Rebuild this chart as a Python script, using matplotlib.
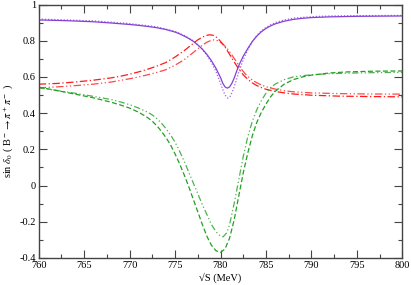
import numpy as np
import matplotlib
matplotlib.use('Agg')
import matplotlib.pyplot as plt
from matplotlib.ticker import MultipleLocator

plt.rcParams['font.family'] = ['Liberation Serif', 'DejaVu Serif']
plt.rcParams['mathtext.fontset'] = 'stix'

# purple, solid
x_ps = [760, 763, 766, 768, 770, 771, 772, 773, 774, 775, 775.5, 776, 776.5, 777,
        777.5, 778, 778.5, 779, 779.5, 780, 780.25, 780.5, 780.75, 781, 781.25,
        781.5, 781.75, 782, 782.5, 783, 783.5, 784, 784.5, 785, 785.5, 786, 787,
        788, 789, 790, 792, 795, 800]
y_ps = [0.915, 0.911, 0.905, 0.898, 0.89, 0.885, 0.879, 0.872, 0.862, 0.848, 0.838,
        0.826, 0.813, 0.797, 0.777, 0.754, 0.725, 0.69, 0.648, 0.597, 0.565, 0.545,
        0.538, 0.545, 0.565, 0.593, 0.628, 0.662, 0.715, 0.757, 0.796, 0.826, 0.85,
        0.868, 0.882, 0.893, 0.908, 0.918, 0.924, 0.928, 0.932, 0.935, 0.937]
# purple, dotted
x_pd = [760, 766, 770, 773, 775, 776, 777, 777.5, 778, 778.5, 779, 779.5, 780,
        780.25, 780.5, 780.8, 781.1, 781.4, 781.7, 782, 782.5, 783, 783.5, 784,
        784.5, 785, 785.5, 786, 787, 788, 790, 792, 795, 800]
y_pd = [0.92, 0.91, 0.895, 0.877, 0.852, 0.83, 0.80, 0.778, 0.752, 0.72, 0.68, 0.63,
        0.565, 0.53, 0.50, 0.483, 0.495, 0.53, 0.575, 0.625, 0.695, 0.75, 0.795, 0.83,
        0.855, 0.873, 0.888, 0.90, 0.915, 0.925, 0.933, 0.937, 0.939, 0.94]
# red, dash-dot
x_rd = [760, 762, 764, 766, 768, 769, 770, 771, 772, 773, 774, 775, 776, 776.5,
        777, 777.5, 778, 778.5, 778.8, 779.2, 779.6, 780, 780.5, 781, 781.5, 782,
        782.5, 783, 783.5, 784, 784.5, 785, 786, 787, 788, 790, 793, 796, 800]
y_rd = [0.56, 0.564, 0.572, 0.582, 0.595, 0.604, 0.615, 0.628, 0.643, 0.66, 0.68,
        0.71, 0.745, 0.765, 0.785, 0.805, 0.82, 0.83, 0.833, 0.83, 0.818, 0.797,
        0.765, 0.725, 0.683, 0.645, 0.612, 0.587, 0.567, 0.552, 0.541, 0.532, 0.52,
        0.512, 0.506, 0.499, 0.494, 0.492, 0.49]
# red, dash-dot-dot
x_rdd = [760, 762, 764, 766, 768, 770, 771, 772, 773, 774, 775, 776, 777, 777.5,
         778, 778.5, 779, 779.3, 779.7, 780.2, 780.7, 781.2, 781.7, 782.2, 782.7,
         783.2, 783.7, 784.3, 785, 786, 787, 788, 790, 793, 796, 800]
y_rdd = [0.54, 0.545, 0.552, 0.56, 0.572, 0.59, 0.60, 0.612, 0.625, 0.64, 0.665,
         0.695, 0.735, 0.755, 0.775, 0.792, 0.803, 0.805, 0.80, 0.785, 0.76, 0.725,
         0.688, 0.65, 0.618, 0.594, 0.576, 0.56, 0.546, 0.533, 0.524, 0.518, 0.512,
         0.508, 0.506, 0.505]
# green, dashed
x_gd = [760, 762, 764, 766, 768, 769, 770, 771, 772, 772.5, 773, 773.5, 774, 774.5,
        775, 775.5, 776, 776.5, 777, 777.5, 778, 778.5, 779, 779.5, 780, 780.5, 781,
        781.5, 782, 782.5, 783, 783.5, 784, 784.5, 785, 785.5, 786, 787, 788, 789,
        790, 792, 794, 797, 800]
y_gd = [0.544, 0.525, 0.505, 0.485, 0.46, 0.445, 0.428, 0.405, 0.375, 0.355, 0.33,
        0.30, 0.265, 0.225, 0.175, 0.12, 0.06, -0.005, -0.075, -0.145, -0.215, -0.28,
        -0.33, -0.36, -0.37, -0.35, -0.29, -0.19, -0.06, 0.07, 0.18, 0.275, 0.35,
        0.405, 0.45, 0.49, 0.52, 0.56, 0.585, 0.60, 0.61, 0.622, 0.628, 0.632, 0.633]
# green, dash-dot-dot
x_gdd = [760, 762, 764, 766, 768, 769, 770, 771, 772, 772.5, 773, 773.5, 774, 774.5,
         775, 775.5, 776, 776.5, 777, 777.5, 778, 778.5, 779, 779.5, 780, 780.3,
         780.7, 781, 781.5, 782, 782.5, 783, 783.5, 784, 784.5, 785, 785.5, 786, 787,
         788, 789, 790, 792, 794, 797, 800]
y_gdd = [0.54, 0.525, 0.51, 0.493, 0.475, 0.462, 0.447, 0.428, 0.405, 0.39, 0.37,
         0.345, 0.315, 0.28, 0.24, 0.19, 0.135, 0.075, 0.015, -0.045, -0.105, -0.16,
         -0.215, -0.255, -0.28, -0.283, -0.26, -0.215, -0.10, 0.03, 0.16, 0.27, 0.355,
         0.42, 0.47, 0.51, 0.54, 0.56, 0.585, 0.60, 0.607, 0.612, 0.618, 0.621, 0.624,
         0.625]

purple = '#8540d8'
red = '#ff1a1a'
green = '#22a022'

fig = plt.figure(figsize=(4.11, 2.85), dpi=100)
ax = fig.add_axes([0.094, 0.095, 0.885, 0.889])

lw = 0.9
ax.plot(x_ps, y_ps, color=purple, lw=lw)
ax.plot(x_pd, y_pd, color=purple, lw=lw, dashes=(1, 1.5), alpha=0.8)
ax.plot(x_rd, y_rd, color=red, lw=lw, dashes=(6, 2, 1, 2))
ax.plot(x_rdd, y_rdd, color=red, lw=lw, dashes=(6, 2, 1, 2, 1, 2), alpha=0.8)
ax.plot(x_gd, y_gd, color=green, lw=lw, dashes=(4, 2))
ax.plot(x_gdd, y_gdd, color=green, lw=lw, dashes=(5, 2, 1, 2, 1, 2), alpha=0.8)

ax.set_xlim(760, 800)
ax.set_ylim(-0.4, 1.0)
ax.xaxis.set_minor_locator(MultipleLocator(2.5))
ax.yaxis.set_minor_locator(MultipleLocator(0.1))
ax.set_xticks([760, 765, 770, 775, 780, 785, 790, 795, 800])
ax.set_xticklabels(['760', '765', '770', '775', '780', '785', '790', '795', '800'])
ax.set_yticks([-0.4, -0.2, 0, 0.2, 0.4, 0.6, 0.8, 1.0])
ax.set_yticklabels(['-0.4', '-0.2', '0', '0.2', '0.4', '0.6', '0.8', '1'])
ax.tick_params(which='both', direction='in', top=True, right=True,
               labelsize=7.5, pad=2, color='#444444')
ax.tick_params(which='major', length=6, width=0.8)
ax.tick_params(which='minor', length=3, width=0.8)
for s in ax.spines.values():
    s.set_linewidth(1.0)
    s.set_color('#444444')

ax.set_xlabel('√S (MeV)', fontsize=7.5, labelpad=2)
ax.set_ylabel(r'sin $\delta_0$ ( B$^-$$\rightarrow$$\pi^+\pi^-$ )', fontsize=7.5, labelpad=3)

fig.savefig('out.png', dpi=100)
